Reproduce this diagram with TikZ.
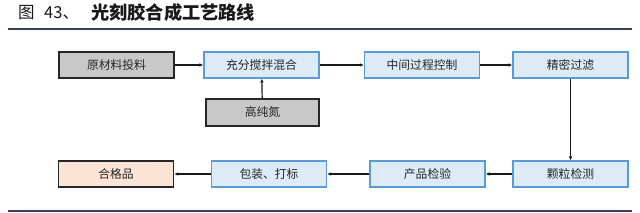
\documentclass[tikz,border=0pt]{standalone}
\usepackage{fontspec}
\newfontfamily\cjk{Noto Sans CJK SC}
\usetikzlibrary{arrows.meta}
\definecolor{graybox}{HTML}{C8C8C8}
\definecolor{bluefill}{HTML}{DDEBF7}
\definecolor{blueline}{HTML}{5B9BD5}
\definecolor{peach}{HTML}{FBE3D6}
\definecolor{rulec}{HTML}{3A3D5C}
\tikzset{
  base/.style={minimum width=115pt, minimum height=26pt, inner sep=0pt, font=\cjk\fontsize{11.8}{13}\selectfont, text=black!85},
  graystep/.style={base, fill=graybox, draw=black!85, line width=1.3pt},
  bluestep/.style={base, fill=bluefill, draw=blueline, line width=1.1pt},
  peachstep/.style={base, fill=peach, draw=black!85, line width=1.3pt},
  flow/.style={draw=black!90, line width=1.2pt, -{Latex[length=4pt,width=3.5pt]}},
  titletext/.style={anchor=west, inner sep=0pt, font=\cjk\fontsize{16.5}{18}\selectfont, text=black!90}
}
\begin{document}
\begin{tikzpicture}[x=1pt,y=-1pt]
\useasboundingbox (0,0) rectangle (640,213);
\fill[white] (0,0) rectangle (640,213);
\node[titletext] (tfig) at (18,13) {图};
\node[titletext] (tnum) at (44,13) {43、};
\node[titletext, font=\cjk\bfseries\fontsize{18.2}{20}\selectfont] (title) at (91,13) {光刻胶合成工艺路线};
\draw[rulec, line width=1.6pt] (8,29) -- (632,29);
\draw[rulec, line width=1.6pt] (8,211) -- (632,211);
\node[graystep] (raw) at (116.5,65) {原材料投料};
\node[bluestep] (mix) at (261.5,65) {充分搅拌混合};
\node[graystep, minimum width=113pt, minimum height=27pt] (n2) at (262.5,112.5) {高纯氮};
\node[bluestep] (ctrl) at (422,65) {中间过程控制};
\node[bluestep] (filt) at (570.5,65) {精密过滤};
\node[bluestep] (part) at (570.5,174) {颗粒检测};
\node[bluestep] (insp) at (427.5,174) {产品检验};
\node[bluestep] (pack) at (269,174) {包装、打标};
\node[peachstep] (ok) at (116,174) {合格品};
\draw[flow] (raw) -- (mix);
\draw[flow] (mix) -- (ctrl);
\draw[flow] (ctrl) -- (filt);
\draw[flow] (n2) -- (mix);
\draw[flow] (filt) -- (part);
\draw[flow] (part) -- (insp);
\draw[flow] (insp) -- (pack);
\draw[flow] (pack) -- (ok);
\end{tikzpicture}
\end{document}
